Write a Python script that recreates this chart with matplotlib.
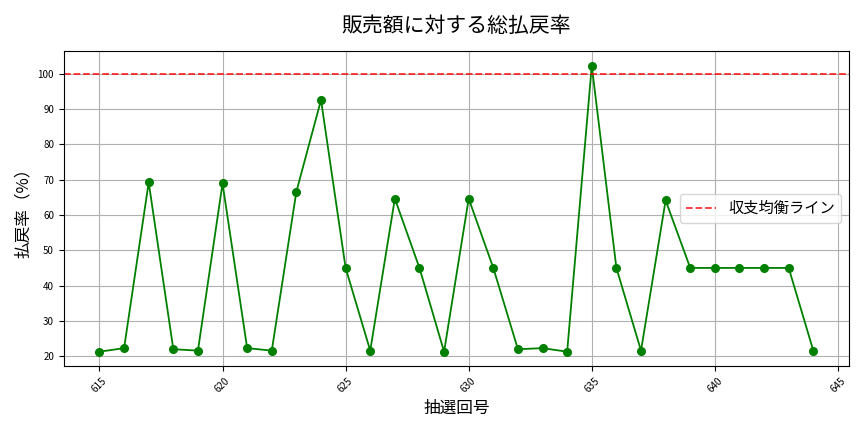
import numpy as np
import matplotlib
matplotlib.use("Agg")
import matplotlib.pyplot as plt

plt.rcParams['font.family'] = ['Noto Sans CJK JP', 'DejaVu Sans']

draws = list(range(615, 645))
payout = [21.3, 22.3, 69.2, 22.0, 21.6, 68.9, 22.3, 21.6, 66.6, 92.5,
          45.0, 21.6, 64.6, 45.0, 21.3, 64.6, 45.0, 22.0, 22.3, 21.3,
          102.2, 45.0, 21.6, 64.1, 45.0, 45.0, 45.0, 45.0, 45.0, 21.6]
breakeven = 100

fig, ax = plt.subplots(figsize=(8.64, 4.32), dpi=100)
ax.plot(draws, payout, marker='o', color='green', linewidth=1.3, markersize=5.5)
ax.axhline(y=breakeven, color='red', linestyle='--', linewidth=1.3, alpha=0.8, label='収支均衡ライン')
ax.set_title('販売額に対する総払戻率', fontsize=15, pad=14)
ax.set_xlabel('抽選回号', fontsize=12)
ax.set_ylabel('払戻率（%）', fontsize=12)
ax.tick_params(axis='x', labelrotation=45, labelsize=7)
ax.tick_params(axis='y', labelsize=7)
ax.grid(True)
ax.legend(fontsize=11)
plt.tight_layout()
plt.savefig('out.png')
